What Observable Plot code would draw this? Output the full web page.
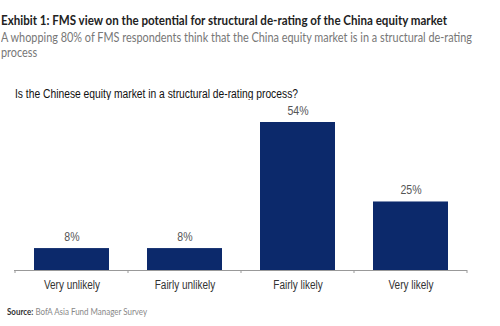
<!DOCTYPE html>
<html><head><meta charset="utf-8">
<script src="https://cdn.jsdelivr.net/npm/d3@7"></script>
<script src="https://cdn.jsdelivr.net/npm/@observablehq/plot@0.6"></script>
<style>
body{margin:0;background:#fff;width:500px;height:326px;position:relative;overflow:hidden}
.t{position:absolute;left:1px;white-space:nowrap;transform-origin:0 0;display:inline-block}
#title{top:12px;font:bold 13.5px Lato,"Open Sans",sans-serif;color:#222}
#sub1{top:29px;font:13px Lato,"Open Sans",sans-serif;color:#777}
#sub2{top:44px;font:13px Lato,"Open Sans",sans-serif;color:#777}
#q{top:87px;left:15px;font:12.5px "Liberation Sans",Arial,sans-serif;color:#111}
#src{top:306px;left:7px;font:9.5px Lato,"Open Sans",sans-serif;color:#888}
#src b{color:#333}
#chart{position:absolute;left:0;top:100px}
</style></head><body>
<div class="t" id="title"></div>
<div class="t" id="sub1"></div>
<div class="t" id="sub2"></div>
<div class="t" id="q"></div>
<div class="t" id="src"><b>Source:</b> <span id="srcText"></span></div>
<div id="chart"></div>
<script>
const titleText = "Exhibit 1: FMS view on the potential for structural de-rating of the China equity market";
const subtitleLines = ["A whopping 80% of FMS respondents think that the China equity market is in a structural de-rating", "process"];
const questionText = "Is the Chinese equity market in a structural de-rating process?";
const sourceText = "BofA Asia Fund Manager Survey";
const categories = ["Very unlikely", "Fairly unlikely", "Fairly likely", "Very likely"];
const values = [8, 8, 54, 25];

document.getElementById("title").textContent = titleText;
document.getElementById("sub1").textContent = subtitleLines[0];
document.getElementById("sub2").textContent = subtitleLines[1];
document.getElementById("q").textContent = questionText;
document.getElementById("srcText").textContent = sourceText;

// horizontally condense a text block to the reference width
function fit(id, w) {
  const el = document.getElementById(id);
  const k = w / el.getBoundingClientRect().width;
  el.style.transform = `scaleX(${k})`;
  return k;
}
const kSub = fit("sub1", 471);
document.getElementById("sub2").style.transform = `scaleX(${kSub})`;
fit("title", 446);
fit("q", 283);
fit("src", 140);

const data = categories.map((c, i) => ({category: c, value: values[i]}));
const barColor = "#0c296b";

const plot = Plot.plot({
  width: 500,
  height: 200,
  marginLeft: 14,
  marginRight: 33,
  marginTop: 22,
  marginBottom: 30,
  style: {fontFamily: '"Liberation Sans",Arial,sans-serif', fontSize: "12px", color: "#333", background: "#fff"},
  x: {domain: categories, paddingInner: 0.34, paddingOuter: 0.17, label: null},
  y: {domain: [0, 54], axis: null},
  marks: [
    Plot.barY(data, {x: "category", y: "value", fill: barColor}),
    Plot.ruleY([0], {stroke: "#999", strokeWidth: 1}),
    Plot.text(data, {x: "category", y: "value", text: d => d.value + "%", lineAnchor: "bottom", dy: -8, fill: "#555", fontSize: 12, className: "vlabel"}),
    Plot.axisX({tickSize: 0, tickPadding: 10, fontSize: 12.5, fill: "#333", className: "xlab"})
  ]
});
document.getElementById("chart").appendChild(plot);

// condense the chart's texts like the reference's narrow face
plot.querySelectorAll(".xlab text").forEach(t => {
  t.setAttribute("textLength", t.getComputedTextLength() * 0.8);
  t.setAttribute("lengthAdjust", "spacingAndGlyphs");
});
plot.querySelectorAll(".vlabel text").forEach(t => {
  t.setAttribute("textLength", t.getComputedTextLength() * 0.88);
  t.setAttribute("lengthAdjust", "spacingAndGlyphs");
});

// boundary tick marks from the plot's own x scale
const xs = plot.scale("x");
const ys = plot.scale("y");
const y0 = ys.apply(0);
const half = (xs.step - xs.bandwidth) / 2;
const bounds = categories.map(c => xs.apply(c) - half).concat([xs.apply(categories[categories.length - 1]) + xs.bandwidth + half]);
d3.select(plot).append("g").selectAll("line").data(bounds).join("line")
  .attr("x1", d => d).attr("x2", d => d)
  .attr("y1", y0).attr("y2", y0 + 3)
  .attr("stroke", "#999");
</script>
</body></html>
